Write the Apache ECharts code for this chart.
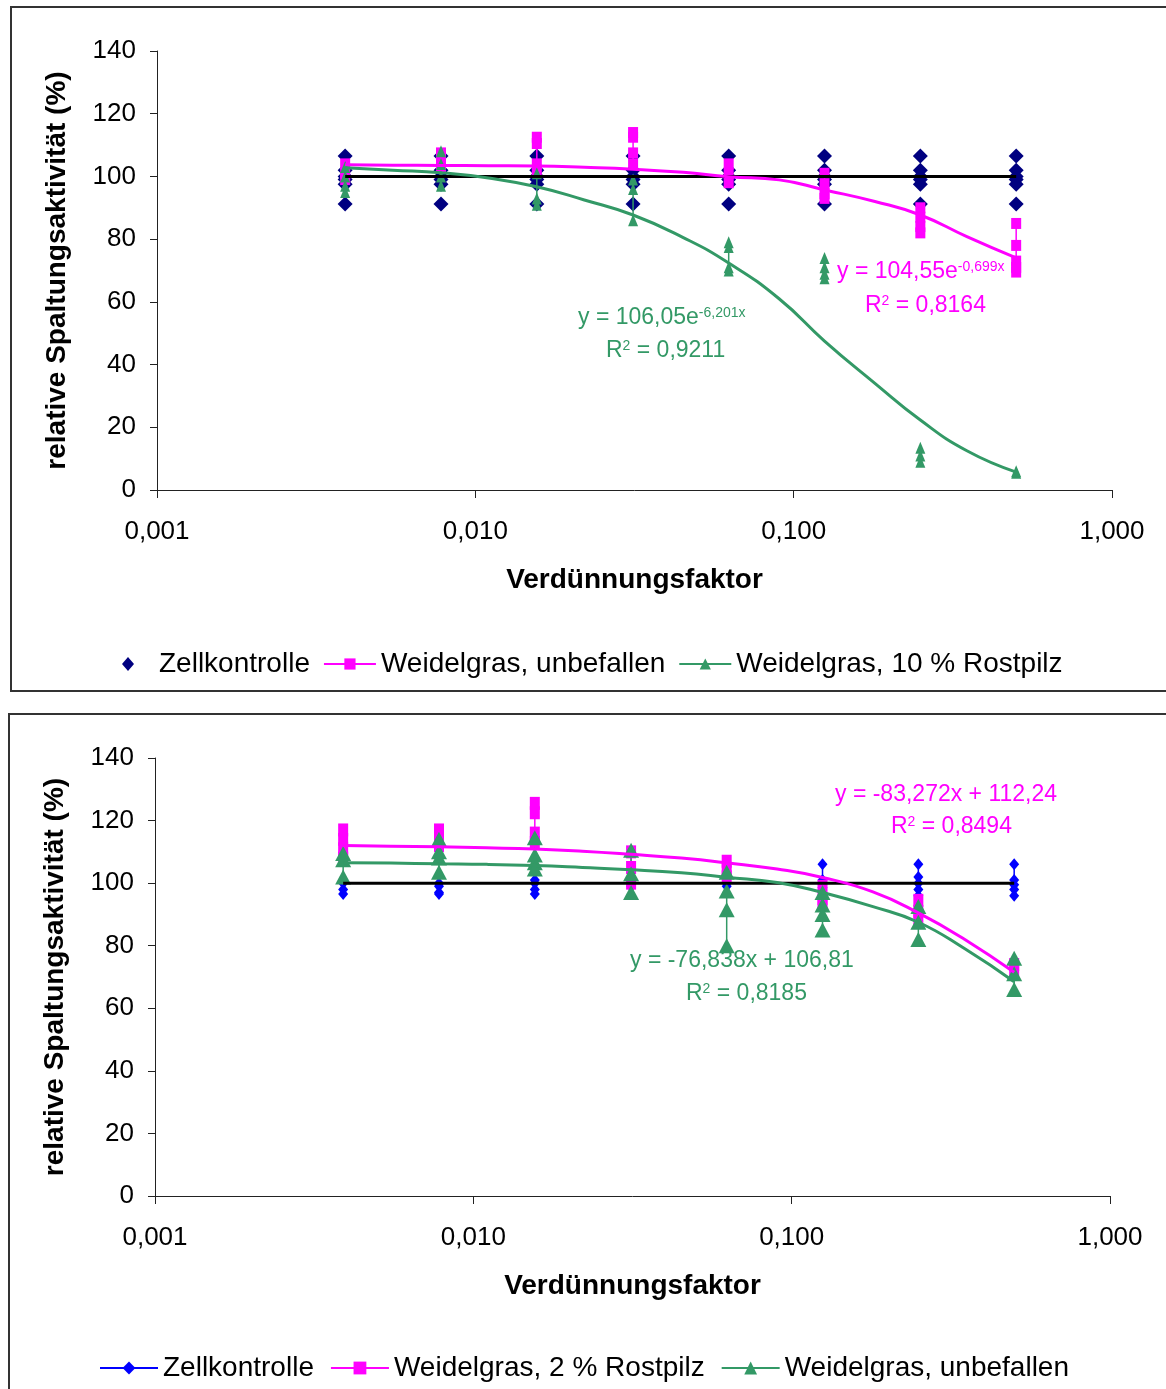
<!DOCTYPE html>
<html>
<head>
<meta charset="utf-8">
<script src="https://cdn.jsdelivr.net/npm/echarts@6/dist/echarts.min.js"></script>
<style>
  html, body { margin: 0; padding: 0; background: #fff; overflow: hidden; }
  #top { position: absolute; left: 0; top: 0; width: 1166px; height: 700px; }
  #bottom { position: absolute; left: 0; top: 700px; width: 1166px; height: 689px; }
</style>
</head>
<body>
<div id="top"></div>
<div id="bottom"></div>
<script>
// Verdünnungsstufen (x)
var doses = [0.0039, 0.0078, 0.0156, 0.0313, 0.0625, 0.125, 0.25, 0.5];

// oberes Diagramm: Messwerte je Verdünnungsstufe
var topControl = [
  [106.5, 102, 100, 99, 97.5, 91.2], [106.5, 102, 100, 99, 97.5, 91.2],
  [106.5, 102, 100, 99, 97.5, 91.2], [106.5, 102, 100, 99, 97.5, 91.2],
  [106.5, 102, 100, 99, 97.5, 91.2], [106.5, 102, 100, 99, 97.5, 91.2],
  [106.5, 102, 100, 99, 97.5, 91.2], [106.5, 102, 100, 99, 97.5, 91.2]
];
var topHealthy = [
  [104, 101, 99], [107.5, 106, 103], [112.5, 110.5, 104, 102], [114, 112.5, 107.5, 104],
  [104, 101, 98], [101, 97.5, 94.5, 93], [90, 87, 84, 82], [85, 78, 73, 71, 69.5]
];
var topRust = [
  [103, 100, 97, 95], [108, 104, 100, 97], [101, 93, 91], [99, 96, 86],
  [79, 77.5, 71, 70], [74, 71, 69, 67.5], [13.5, 11, 9], [6, 5.5]
];

// unteres Diagramm
var botControl = [
  [100, 98, 96.5], [100, 99, 97, 96.5], [101, 100, 98, 96.5], [100, 99],
  [100, 99], [106, 101, 100, 98.5], [106, 102, 100, 98, 96], [106, 101, 99.5, 98, 96]
];
var botRust = [
  [117, 114, 111, 108], [117, 114.5, 112], [125.5, 122.5, 116, 113], [110, 105, 100],
  [107, 104, 102], [99, 95, 93], [94.5, 91, 88], [74, 72]
];
var botHealthy = [
  [109.5, 107.5, 102], [114, 110, 108, 103.5], [114.5, 109, 106.5, 104.5], [110.5, 103, 97],
  [103.5, 97.5, 91.5, 80], [97, 93, 90, 85], [92.5, 87.5, 82], [76, 71, 66]
];

// Trendlinien
var trendX = [0.0039, 0.0055, 0.0078, 0.011, 0.0156, 0.022, 0.0313, 0.045, 0.0625, 0.09, 0.125, 0.18, 0.25, 0.35, 0.5];
var topRustTrend = [102.8, 102, 101.2, 99.5, 96.7, 92.5, 87.7, 80.5, 72.4, 61, 47.5, 34, 22.3, 12.5, 5.7];
var topHealthyTrend = [103.7, 103.6, 103.5, 103.4, 103.3, 102.9, 102.3, 101.3, 99.9, 98.9, 95.7, 92, 87.7, 80.8, 74];
var botRustTrend = [112, 111.8, 111.6, 111.3, 110.9, 110.2, 109.2, 108, 106.5, 104.5, 101.8, 97.2, 90.5, 82, 71.5];
var botHealthyTrend = [106.5, 106.4, 106.2, 106, 105.6, 105, 104.3, 103.3, 101.9, 100.2, 97, 92.5, 87.5, 79, 68.5];
var ctrlTrendX = [0.0039, 0.5];
var ctrlTrend = [100, 100];

var xTicks = [0.001, 0.01, 0.1, 1];
var yTicks = [0, 20, 40, 60, 80, 100, 120, 140];

var FONT = '"Liberation Sans", Arial, sans-serif';
var NAVY = '#000080', BLUE = '#0000ff', PINK = '#ff00ff', GREEN = '#339966';

function grouped(values) {
  var out = [];
  values.forEach(function (vals, i) {
    vals.forEach(function (v) { out.push([doses[i], v]); });
    out.push([doses[i], '-']);
  });
  return out;
}
function pairs(xs, ys) {
  return xs.map(function (x, i) { return [x, ys[i]]; });
}
function trend(name, xs, ys, color) {
  return {
    name: name, type: 'line', data: pairs(xs, ys), symbol: 'none', smooth: true,
    lineStyle: { color: color, width: 3 }, z: 5, silent: true
  };
}

function axes(grid) {
  return {
    grid: grid,
    xAxis: {
      type: 'log', logBase: 10, min: xTicks[0], max: xTicks[xTicks.length - 1],
      name: 'Verdünnungsfaktor', nameLocation: 'middle', nameGap: 76,
      nameTextStyle: { fontFamily: FONT, fontSize: 28, fontWeight: 'bold', color: '#000' },
      axisLine: { lineStyle: { color: '#222', width: 1 } },
      axisTick: { length: 8, lineStyle: { color: '#222' } },
      minorTick: { show: false },
      splitLine: { show: false },
      axisLabel: {
        margin: 29, fontFamily: FONT, fontSize: 26, color: '#000',
        formatter: function (v) { return v.toFixed(3).replace('.', ','); }
      }
    },
    yAxis: {
      type: 'value', min: yTicks[0], max: yTicks[yTicks.length - 1], interval: 20,
      name: 'relative Spaltungsaktivität (%)', nameLocation: 'middle', nameGap: 86,
      nameTextStyle: { fontFamily: FONT, fontSize: 28, fontWeight: 'bold', color: '#000' },
      axisLine: { show: true, lineStyle: { color: '#222', width: 1 } },
      axisTick: { show: true, length: 7, lineStyle: { color: '#222' } },
      splitLine: { show: false },
      axisLabel: { margin: 21, fontFamily: FONT, fontSize: 26, color: '#000' }
    }
  };
}

function eqText(x, y, parts, color) {
  return {
    type: 'text', left: x, top: y, silent: true,
    style: {
      text: parts, fill: color, font: '23px ' + FONT,
      rich: {
        a: { fontSize: 23, fontFamily: FONT, fill: color, color: color },
        s: { fontSize: 14, fontFamily: FONT, fill: color, color: color, verticalAlign: 'top', padding: [0, 0, 10, 0] }
      }
    }
  };
}

// ---- oberes Diagramm ----
var topChart = echarts.init(document.getElementById('top'));
var topOpt = axes({ left: 157, top: 51, width: 955, height: 439 });
topOpt.animation = false;
topOpt.legend = {
  left: 117, top: 645, itemWidth: 52, itemHeight: 14, itemGap: 13, symbolKeepAspect: true,
  data: [
    { name: 'Zellkontrolle', icon: 'path://M6,0 L12,7 L6,14 L0,7 Z' },
    'Weidelgras, unbefallen', 'Weidelgras, 10 % Rostpilz'
  ],
  textStyle: { fontFamily: FONT, fontSize: 28, color: '#000' }
};
topOpt.series = [
  {
    name: 'Zellkontrolle', type: 'scatter', symbol: 'diamond', symbolSize: 15,
    itemStyle: { color: NAVY, opacity: 1 }, data: grouped(topControl).filter(function (d) { return d[1] !== '-'; })
  },
  {
    name: 'Weidelgras, unbefallen', type: 'line', symbol: 'rect', symbolSize: [10, 11],
    showAllSymbol: true, itemStyle: { color: PINK }, lineStyle: { color: PINK, width: 1.5 },
    data: grouped(topHealthy)
  },
  {
    name: 'Weidelgras, 10 % Rostpilz', type: 'line', symbol: 'triangle', symbolSize: [10, 12],
    showAllSymbol: true, itemStyle: { color: GREEN }, lineStyle: { color: GREEN, width: 1.5 },
    data: grouped(topRust)
  },
  trend('trend-ctrl', ctrlTrendX, ctrlTrend, '#000'),
  trend('trend-healthy', trendX, topHealthyTrend, PINK),
  trend('trend-rust', trendX, topRustTrend, GREEN)
];
topOpt.graphic = [
  { type: 'rect', silent: true, shape: { x: 11, y: 7, width: 1200, height: 684 },
    style: { fill: 'none', stroke: '#333', lineWidth: 2 } },
  eqText(578, 306, '{a|y = 106,05e}{s|-6,201x}', GREEN),
  eqText(606, 339, '{a|R}{s|2}{a| = 0,9211}', GREEN),
  eqText(837, 260, '{a|y = 104,55e}{s|-0,699x}', PINK),
  eqText(865, 294, '{a|R}{s|2}{a| = 0,8164}', PINK)
];
topChart.setOption(topOpt);

// ---- unteres Diagramm ----
var botChart = echarts.init(document.getElementById('bottom'));
var botOpt = axes({ left: 155, top: 58, width: 955, height: 438 });
botOpt.animation = false;
botOpt.legend = {
  left: 94, top: 649, itemWidth: 58, itemHeight: 16, itemGap: 16,
  data: ['Zellkontrolle', 'Weidelgras, 2 % Rostpilz', 'Weidelgras, unbefallen'],
  textStyle: { fontFamily: FONT, fontSize: 28, color: '#000' }
};
botOpt.series = [
  {
    name: 'Zellkontrolle', type: 'line', symbol: 'diamond', symbolSize: [10, 12],
    showAllSymbol: true, itemStyle: { color: BLUE }, lineStyle: { color: BLUE, width: 1.5 },
    data: grouped(botControl)
  },
  {
    name: 'Weidelgras, 2 % Rostpilz', type: 'line', symbol: 'rect', symbolSize: [10, 13],
    showAllSymbol: true, itemStyle: { color: PINK }, lineStyle: { color: PINK, width: 1.5 },
    data: grouped(botRust)
  },
  {
    name: 'Weidelgras, unbefallen', type: 'line', symbol: 'triangle', symbolSize: [16, 15],
    showAllSymbol: true, itemStyle: { color: GREEN }, lineStyle: { color: GREEN, width: 1.5 },
    data: grouped(botHealthy)
  },
  trend('trend-ctrl', ctrlTrendX, ctrlTrend, '#000'),
  trend('trend-rust', trendX, botRustTrend, PINK),
  trend('trend-healthy', trendX, botHealthyTrend, GREEN)
];
botOpt.graphic = [
  { type: 'rect', silent: true, shape: { x: 9, y: 14, width: 1200, height: 720 },
    style: { fill: 'none', stroke: '#333', lineWidth: 2 } },
  eqText(835, 83, '{a|y = -83,272x + 112,24}', PINK),
  eqText(891, 115, '{a|R}{s|2}{a| = 0,8494}', PINK),
  eqText(630, 249, '{a|y = -76,838x + 106,81}', GREEN),
  eqText(686, 282, '{a|R}{s|2}{a| = 0,8185}', GREEN)
];
botChart.setOption(botOpt);
</script>
</body>
</html>
